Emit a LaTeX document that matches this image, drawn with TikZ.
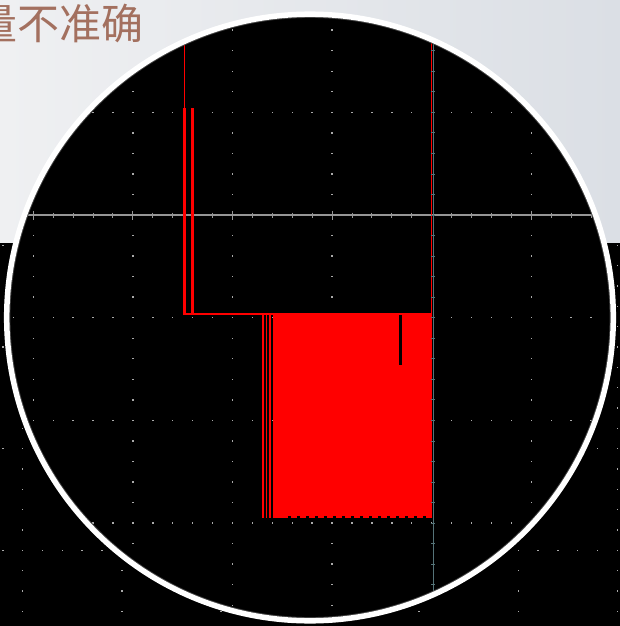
\documentclass[tikz,border=0pt]{standalone}
\usepackage{fontspec}
\newfontfamily\cjkfont{Noto Sans CJK SC}
\definecolor{bgL}{RGB}{239,240,242}
\definecolor{bgR}{RGB}{219,223,229}
\definecolor{txt}{RGB}{163,112,95}
\definecolor{gdot}{RGB}{170,170,170}
\definecolor{axisg}{RGB}{150,150,150}
\definecolor{axisv}{RGB}{85,115,120}
\begin{document}
\begin{tikzpicture}[x=1pt,y=-1pt,
  griddot/.style={fill=gdot},
  wave/.style={fill=red},
  tickmark/.style={draw=axisg,line width=1},
  vtickmark/.style={draw=axisv,line width=0.8}]
\useasboundingbox (0,0) rectangle (620,626);
% background
\shade[left color=bgL,right color=bgR] (0,0) rectangle (620,243);
\fill[black] (0,243) rectangle (620,626);
% outside screen grid
\foreach \k in {0,...,6}{
  \foreach \j in {0,...,18}{
    \fill[griddot] ({22.7+99.1*\k-0.7},{245.2+20.34*\j-0.7}) rectangle ++(1.4,1.4);
  }
}
\foreach \yy in {245.2,346.9,448.6,550.3}{
  \foreach \i in {0,...,31}{
    \fill[griddot] ({2.88+19.82*\i-0.7},{\yy-0.7}) rectangle ++(1.4,1.4);
  }
}
% magnified view
\begin{scope}
  \clip (310,317.5) circle (302.5);
  \fill[black] (0,0) rectangle (620,626);
  \foreach \k in {0,1,2,3,5}{
    \foreach \j in {-10,...,20}{
      \fill[griddot] ({33.3+99.6*\k-0.7},{215+20.54*\j-0.7}) rectangle ++(1.4,1.4);
    }
  }
  \foreach \yy in {9.6,112.3,317.7,420.4,523.1}{
    \foreach \i in {-2,...,29}{
      \fill[griddot] ({33.3+19.92*\i-0.7},{\yy-0.7}) rectangle ++(1.4,1.4);
    }
  }
  % horizontal axis
  \draw[axisg,line width=1.3] (0,215) -- (620,215);
  \foreach \i in {-2,...,29}{
    \pgfmathsetmacro\tl{ifthenelse(mod(\i+10,5)==0,4.5,2.5)}
    \draw[tickmark] ({33.3+19.92*\i},{215-\tl}) -- ({33.3+19.92*\i},{215+\tl});
  }
  % red waveform
  \fill[wave] (183.5,0) rectangle (185.2,108.5);
  \fill[wave] (183.3,108) rectangle (186.3,314.8);
  \fill[wave] (190.7,108.3) rectangle (193.7,314.8);
  \fill[wave] (183.3,312.6) rectangle (432.2,314.8);
  \fill[wave] (262,313) rectangle (264,517.5);
  \fill[wave] (265.5,313) rectangle (267.3,517.5);
  \fill[wave] (268.8,313) rectangle (270.7,517.5);
  \fill[wave] (273.3,313) rectangle (432.2,517.5);
  \fill[wave] (430.6,0) rectangle (432.2,517.5);
  \fill[black] (399.3,315) rectangle (402,365);
  \draw[black,line width=1.3,dash pattern=on 3pt off 6pt] (288,516.9) -- (426,516.9);
  % vertical axis
  \draw[axisv,line width=0.9] (433,0) -- (433,626);
  \foreach \j in {-10,...,20}{
    \draw[vtickmark] (431,{215+20.54*\j}) -- (435,{215+20.54*\j});
  }
\end{scope}
% lens rim
\draw[black!75,line width=1.2] (310,317.5) circle (300.2);
\draw[white,line width=5.5] (310,317.5) circle (303.3);
% title text
\node[anchor=base west,inner sep=0,text=txt,font=\cjkfont\fontsize{42}{42}\selectfont] (title) at (-25,40) {量不准确};
\end{tikzpicture}
\end{document}
